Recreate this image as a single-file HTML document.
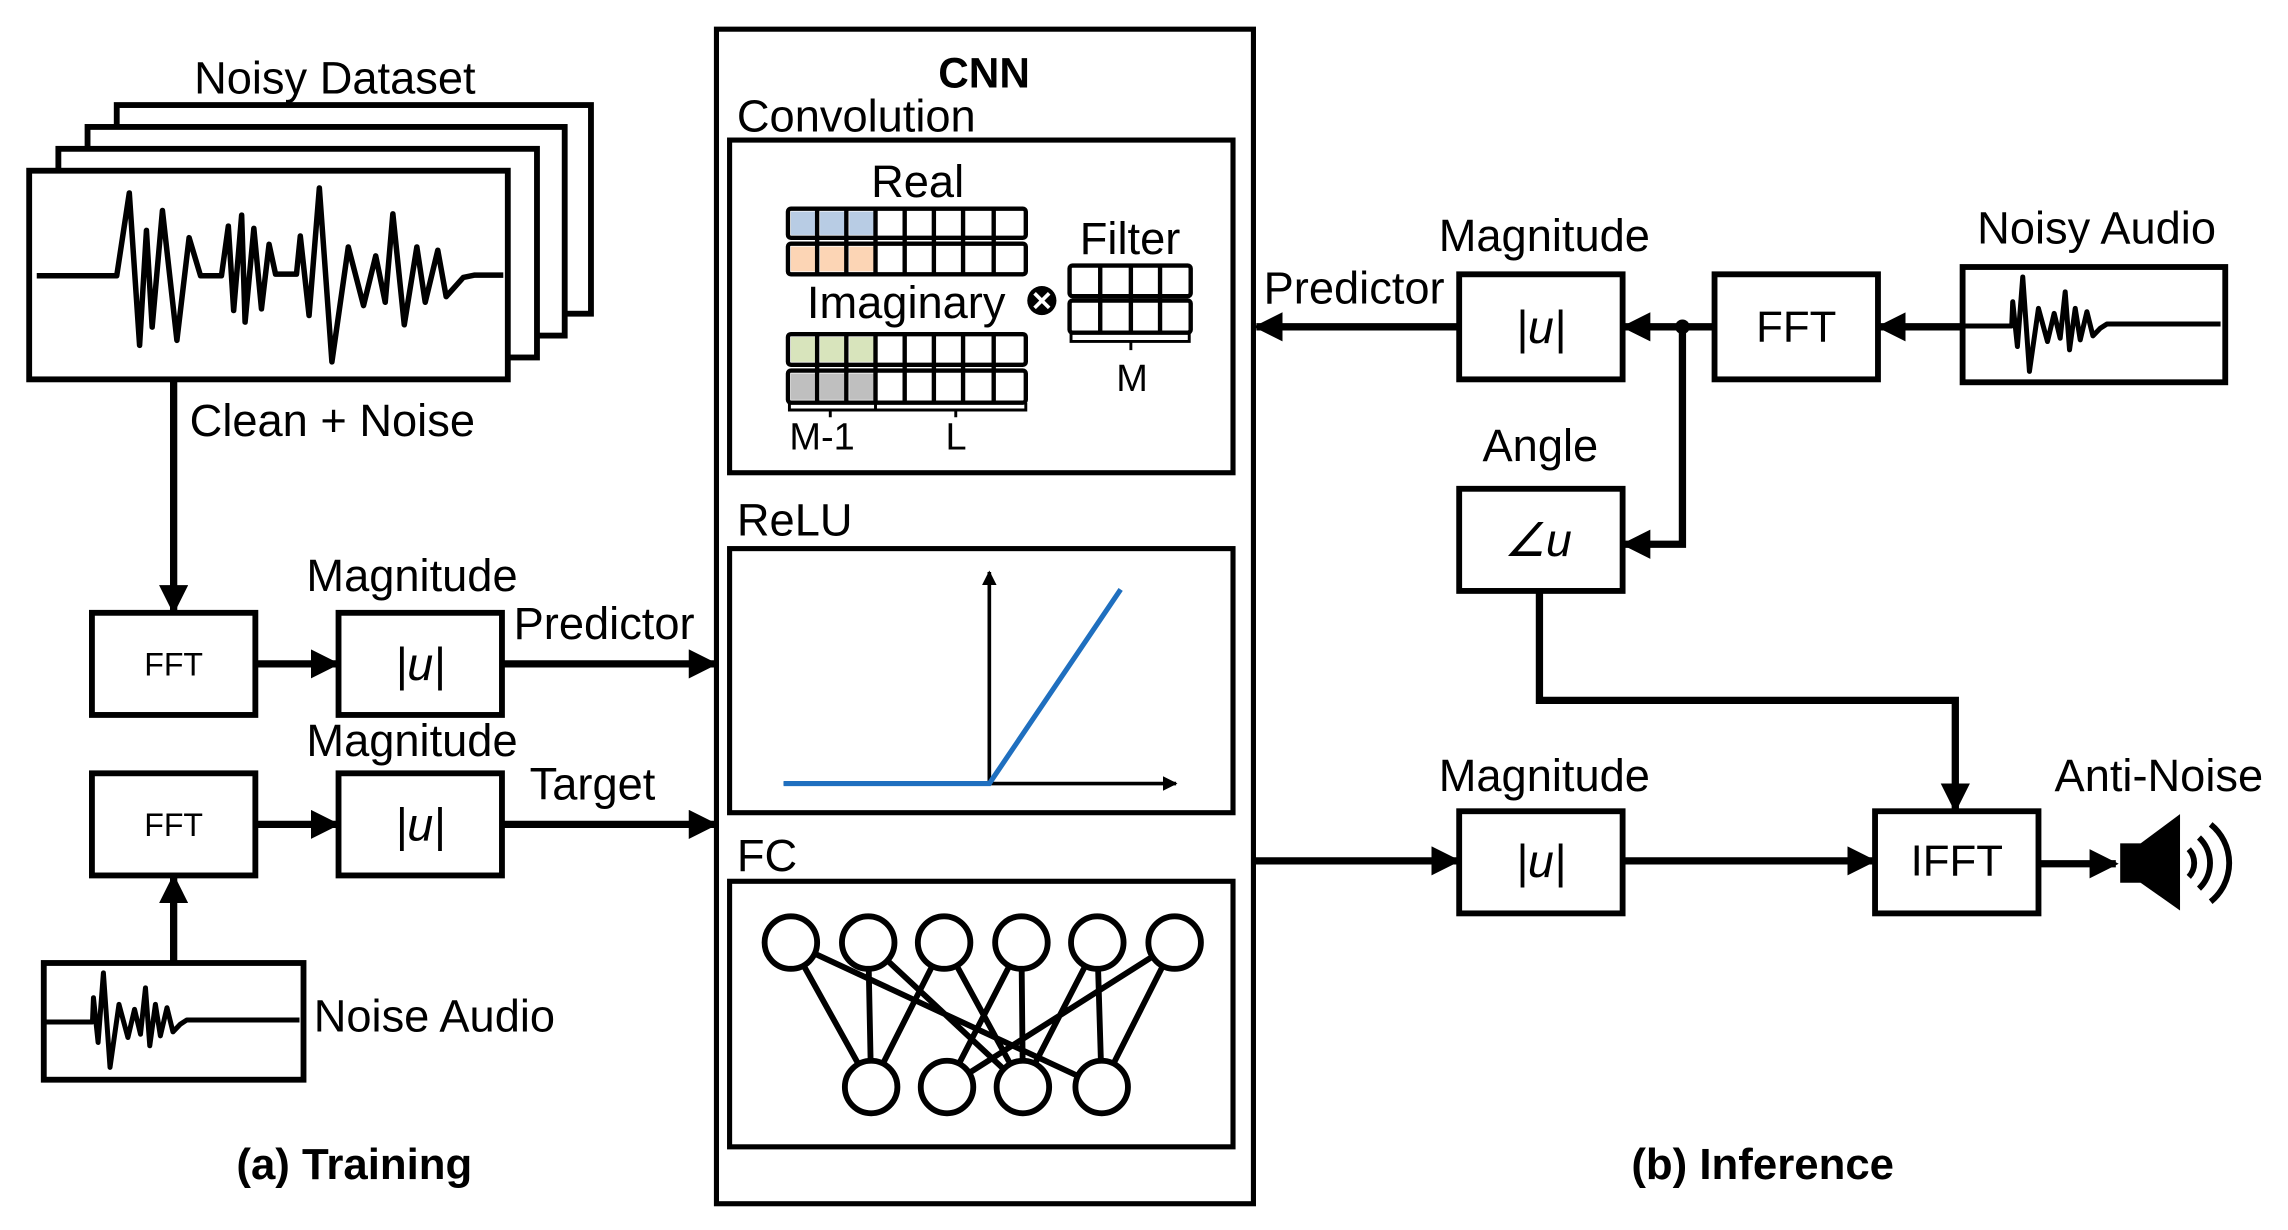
<!DOCTYPE html>
<html><head><meta charset="utf-8"><style>
html,body{margin:0;padding:0;background:#fff;}
svg{display:block;}
text{font-family:"Liberation Sans",sans-serif;fill:#000;}
</style></head><body>
<svg width="2288" height="1230" viewBox="0 0 1568 843" preserveAspectRatio="none" xmlns="http://www.w3.org/2000/svg">
<defs>
<marker id="ah" viewBox="0 0 10 10" refX="9" refY="5" markerWidth="4" markerHeight="4" orient="auto" markerUnits="strokeWidth">
<path d="M0,0 L10,5 L0,10 z" fill="#000"/></marker>
<g id="nw">
<polyline vector-effect="non-scaling-stroke" fill="none" stroke="#000" stroke-width="5" stroke-linejoin="round" points="15,228 155,228 158,155 172,290 188,80 208,365 235,175 262,275 282,190 300,265 315,125 328,300 345,175 360,270 380,185 398,258 420,235 440,222 780,222"/>
</g>
</defs>
<g fill="none" stroke="#000" stroke-width="4">
<rect x="80" y="72" width="325" height="143" fill="#fff"/>
<rect x="60" y="87" width="327" height="143" fill="#fff"/>
<rect x="40" y="102" width="328" height="143" fill="#fff"/>
<rect x="20" y="117" width="328" height="143" fill="#fff"/>
</g>
<g transform="translate(80,189) scale(0.261,0.227) translate(-300,-405)">
<polyline vector-effect="non-scaling-stroke" fill="none" stroke="#000" stroke-width="5.5" stroke-linejoin="round" points="90,405 300,405 333,155 360,615 378,268 393,560 420,208 458,600 490,290 520,405 575,405 593,255 607,510 628,222 637,545 660,262 680,505 700,310 717,400 772,400 782,285 805,525 832,140 865,665 908,318 948,495 980,345 1005,485 1025,218 1055,553 1088,318 1110,485 1143,328 1165,468 1210,410 1240,403 1315,403"/>
</g>
<text x="133" y="64" font-size="31">Noisy Dataset</text>
<text x="130" y="299" font-size="31">Clean + Noise</text>

<g fill="none" stroke="#000" stroke-width="4">
<rect x="63" y="420" width="112" height="70"/>
<rect x="232" y="420" width="112" height="70"/>
<rect x="63" y="530" width="112" height="70"/>
<rect x="232" y="530" width="112" height="70"/>
<rect x="30" y="660" width="178" height="80"/>
<rect x="1345" y="183" width="180" height="79"/>
<rect x="1000" y="188" width="112" height="72"/>
<rect x="1175" y="188" width="112" height="72"/>
<rect x="1000" y="335" width="112" height="70"/>
<rect x="1000" y="556" width="112" height="70"/>
<rect x="1285" y="556" width="112" height="70"/>
<rect x="491" y="20" width="368" height="805" stroke-width="3.5"/>
<rect x="500" y="96" width="345" height="228" stroke-width="3.5"/>
<rect x="500" y="376" width="345" height="181" stroke-width="3.5"/>
<rect x="500" y="604" width="345" height="182" stroke-width="3.5"/>
</g>
<use href="#nw" transform="translate(1345,183) scale(0.229,0.227) translate(-8,-50)"/>
<use href="#nw" transform="translate(30,660) scale(0.227,0.227) translate(-8,-50)"/>

<g fill="none" stroke="#000" stroke-width="5" marker-end="url(#ah)">
<line x1="119" y1="260" x2="119" y2="419"/>
<line x1="175" y1="455" x2="231" y2="455"/>
<line x1="344" y1="455" x2="490" y2="455"/>
<line x1="175" y1="565" x2="231" y2="565"/>
<line x1="344" y1="565" x2="490" y2="565"/>
<line x1="119" y1="660" x2="119" y2="601"/>
<line x1="1345" y1="224" x2="1288" y2="224"/>
<line x1="1175" y1="224" x2="1113" y2="224"/>
<line x1="1000" y1="224" x2="861" y2="224"/>
<polyline points="1153,224 1153,373 1113,373"/>
<polyline points="1055,405 1055,480 1340,480 1340,555"/>
<line x1="859" y1="590" x2="999" y2="590"/>
<line x1="1112" y1="590" x2="1284" y2="590"/>
<line x1="1397" y1="592" x2="1450" y2="592"/>
</g>
<circle cx="1153" cy="224" r="5" fill="#000"/>

<rect x="1453" y="578" width="16" height="27" fill="#000"/>
<polygon points="1467,578 1494,558 1494,624 1467,605" fill="#000"/>
<g fill="none" stroke="#000" stroke-width="4">
<path d="M1500,582 A14,14 0 0 1 1500,601"/>
<path d="M1507,574 A24,24 0 0 1 1507,609"/>
<path d="M1515,565 A34,34 0 0 1 1515,618"/>
</g>

<g font-size="31">
<text x="210" y="405">Magnitude</text>
<text x="352" y="438">Predictor</text>
<text x="210" y="518">Magnitude</text>
<text x="363" y="548">Target</text>
<text x="215" y="707">Noise Audio</text>
<text x="866" y="208">Predictor</text>
<text x="986" y="172">Magnitude</text>
<text x="1355" y="167">Noisy Audio</text>
<text x="1016" y="316">Angle</text>
<text x="986" y="542">Magnitude</text>
<text x="1408" y="542">Anti-Noise</text>
<text x="505" y="90">Convolution</text>
<text x="505" y="367">ReLU</text>
<text x="505" y="597">FC</text>
<text x="597" y="135">Real</text>
<text x="553" y="218">Imaginary</text>
<text x="740" y="174">Filter</text>
</g>
<g font-size="22" text-anchor="middle">
<text x="119" y="463">FFT</text>
<text x="119" y="573">FFT</text>
</g>
<g font-size="30" text-anchor="middle">
<text x="1231" y="234">FFT</text>
<text x="1341" y="600">IFFT</text>
</g>
<g font-size="32" text-anchor="middle" font-style="italic">
<text x="288" y="466" font-family="Liberation Serif">|u|</text>
<text x="288" y="576" font-family="Liberation Serif">|u|</text>
<text x="1056" y="235" font-family="Liberation Serif">|u|</text>
<text x="1056" y="601" font-family="Liberation Serif">|u|</text>
<text x="1054" y="381" font-family="Liberation Serif">∠u</text>
</g>
<g font-size="26">
<text x="541" y="308">M-1</text>
<text x="648" y="308">L</text>
<text x="765" y="268">M</text>
</g>
<text x="643" y="60" font-size="29" font-weight="bold">CNN</text>
<text x="162" y="808" font-size="30" font-weight="bold">(a) Training</text>
<text x="1118" y="808" font-size="30" font-weight="bold">(b) Inference</text>

<g stroke="#000" stroke-width="3">
<g fill="#fff">
<rect x="540" y="143" width="163" height="20" rx="2"/>
<rect x="540" y="167" width="163" height="21" rx="2"/>
<rect x="540" y="229" width="163" height="21" rx="2"/>
<rect x="540" y="254" width="163" height="22" rx="2"/>
<rect x="733" y="182" width="83" height="21" rx="2"/>
<rect x="733" y="206" width="83" height="22" rx="2"/>
</g>
<g fill="#b8cce4"><rect x="542" y="145" width="18" height="16" stroke="none"/><rect x="562" y="145" width="18" height="16" stroke="none"/><rect x="582" y="145" width="18" height="16" stroke="none"/></g>
<g fill="#fcd5b5"><rect x="542" y="169" width="18" height="17" stroke="none"/><rect x="562" y="169" width="18" height="17" stroke="none"/><rect x="582" y="169" width="18" height="17" stroke="none"/></g>
<g fill="#d8e4bc"><rect x="542" y="231" width="18" height="17" stroke="none"/><rect x="562" y="231" width="18" height="17" stroke="none"/><rect x="582" y="231" width="18" height="17" stroke="none"/></g>
<g fill="#bfbfbf"><rect x="542" y="256" width="18" height="18" stroke="none"/><rect x="562" y="256" width="18" height="18" stroke="none"/><rect x="582" y="256" width="18" height="18" stroke="none"/></g>
<path d="M560,143V188 M580,143V188 M600,143V188 M620,143V188 M640,143V188 M660,143V188 M681,143V188 M560,229V276 M580,229V276 M600,229V276 M620,229V276 M640,229V276 M660,229V276 M681,229V276 M754,182V228 M775,182V228 M795,182V228" fill="none"/>
<path d="M541,276V281H703V276 M569,281V286 M655,281V286 M600,276V281 M734,228V234H815V228 M775,234V240" fill="none" stroke-width="2"/>
</g>
<circle cx="714" cy="206" r="10" fill="#000"/>
<path d="M709,201L719,211M719,201L709,211" stroke="#fff" stroke-width="2.5"/>

<g stroke="#000" fill="none" marker-end="url(#ah)">
<line x1="678" y1="537" x2="678" y2="392" stroke-width="2.5"/>
<line x1="537" y1="537" x2="806" y2="537" stroke-width="2.5"/>
</g>
<polyline points="537,537 678,537 768,404" fill="none" stroke="#1f6fbf" stroke-width="3.5"/>

<g stroke="#000" stroke-width="4" fill="none">
<path d="M542,646L597,745 M542,646L755,745 M595,646L597,745 M595,646L701,745 M647,646L597,745 M647,646L701,745 M700,646L649,745 M700,646L701,745 M752,646L701,745 M752,646L755,745 M805,646L649,745 M805,646L755,745"/>
<g fill="#fff">
<circle cx="542" cy="646" r="18"/><circle cx="595" cy="646" r="18"/><circle cx="647" cy="646" r="18"/>
<circle cx="700" cy="646" r="18"/><circle cx="752" cy="646" r="18"/><circle cx="805" cy="646" r="18"/>
<circle cx="597" cy="745" r="18"/><circle cx="649" cy="745" r="18"/><circle cx="701" cy="745" r="18"/><circle cx="755" cy="745" r="18"/>
</g>
</g>
</svg>
</body></html>
